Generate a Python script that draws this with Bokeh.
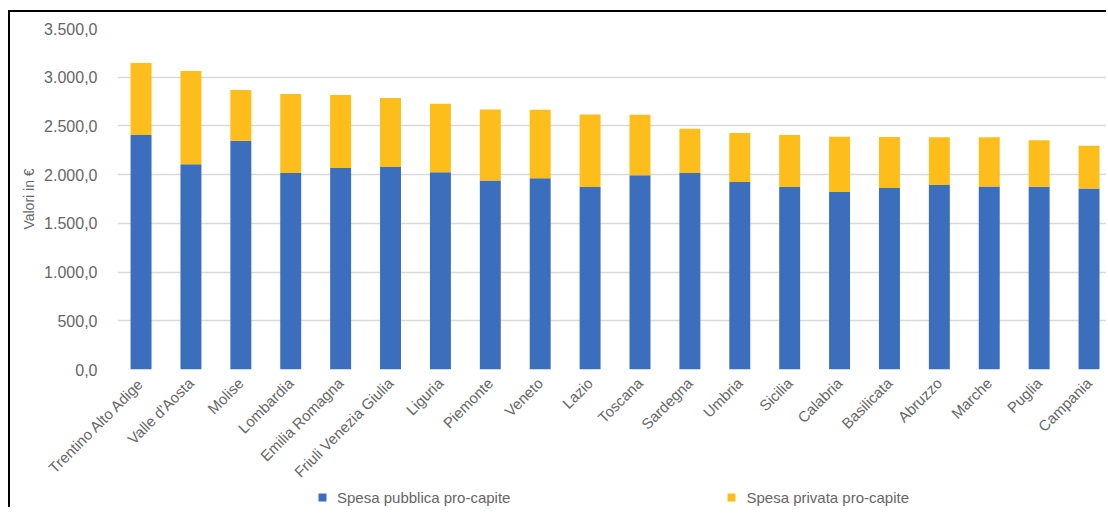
from bokeh.plotting import figure
from bokeh.layouts import column
from bokeh.models import Range1d, FixedTicker, Legend, LegendItem, InlineStyleSheet
from bokeh.embed import file_html
from bokeh.resources import INLINE
from math import pi

# ---- data ----
regions = ["Trentino Alto Adige", "Valle d'Aosta", "Molise", "Lombardia", "Emilia Romagna",
           "Friuli Venezia Giulia", "Liguria", "Piemonte", "Veneto", "Lazio", "Toscana",
           "Sardegna", "Umbria", "Sicilia", "Calabria", "Basilicata", "Abruzzo", "Marche",
           "Puglia", "Campania"]
spesa_pubblica = [2407, 2107, 2348, 2017, 2069, 2079, 2024, 1941, 1962, 1872, 1993,
                  2017, 1924, 1872, 1821, 1862, 1893, 1879, 1876, 1859]
spesa_privata = [738, 958, 521, 810, 748, 707, 703, 728, 703, 745, 621,
                 455, 503, 535, 568, 524, 490, 504, 476, 437]
y_ticks = [0, 500, 1000, 1500, 2000, 2500, 3000, 3500]
y_tick_labels = ["0,0", "500,0", "1.000,0", "1.500,0", "2.000,0", "2.500,0", "3.000,0", "3.500,0"]
series_names = ["Spesa pubblica pro-capite", "Spesa privata pro-capite"]
y_title = "Valori in €"

BLUE = "#3B6FBE"
YELLOW = "#FDBD1B"
GREY = "#666666"
FONT = "Liberation Sans, Arial, sans-serif"

positions = list(range(len(regions)))
src = dict(x=positions, pub=spesa_pubblica, priv=spesa_privata)

p = figure(frame_width=989, frame_height=339, output_backend="svg", toolbar_location=None,
           x_range=Range1d(-0.472, 19.39), y_range=Range1d(0, 3500),
           min_border_left=107, min_border_right=0, min_border_top=16, min_border_bottom=120)
p.stylesheets = [InlineStyleSheet(css=":host { margin-left: 8px; margin-top: 10px; "
                                      "border-left: 2px solid #000; border-top: 2px solid #000; }")]
p.outline_line_color = None

r = p.vbar_stack(["pub", "priv"], x="x", width=0.42, source=src,
                 color=[BLUE, YELLOW], line_color=None)

# axes
p.xaxis.ticker = FixedTicker(ticks=positions)
p.xaxis.major_label_overrides = {i: n for i, n in zip(positions, regions)}
p.xaxis.major_label_orientation = pi / 4
p.xaxis.axis_line_color = None
p.xaxis.major_tick_line_color = None
p.xaxis.minor_tick_line_color = None
p.xaxis.major_label_standoff = 5
p.xaxis.major_label_text_font = FONT
p.xaxis.major_label_text_font_size = "15px"
p.xaxis.major_label_text_color = GREY

p.yaxis.ticker = FixedTicker(ticks=y_ticks)
p.yaxis.major_label_overrides = {t: l for t, l in zip(y_ticks, y_tick_labels)}
p.yaxis.axis_line_color = None
p.yaxis.major_tick_line_color = None
p.yaxis.minor_tick_line_color = None
p.yaxis.major_label_standoff = 14
p.yaxis.major_label_text_font = FONT
p.yaxis.major_label_text_font_size = "16px"
p.yaxis.major_label_text_color = GREY
p.yaxis.axis_label = y_title
p.yaxis.axis_label_text_font = FONT
p.yaxis.axis_label_text_font_size = "14px"
p.yaxis.axis_label_text_font_style = "normal"
p.yaxis.axis_label_text_color = GREY
p.yaxis.axis_label_standoff = 4

p.xgrid.grid_line_color = None
p.ygrid.ticker = FixedTicker(ticks=y_ticks)
p.ygrid.grid_line_color = "#D9D9D9"
p.ygrid.grid_line_width = 1.5

# legend strip below the chart: same series drawn outside its visible range,
# so only the legend swatches and labels show
lp = figure(width=1096, height=20, output_backend="svg", toolbar_location=None,
            x_axis_location=None, y_axis_location=None, min_border=0,
            x_range=Range1d(-200, -199), y_range=Range1d(0, 1))
lp.stylesheets = [InlineStyleSheet(css=":host { margin-left: 8px; border-left: 2px solid #000; }")]
lp.outline_line_color = None
lp.grid.visible = False
lr = lp.vbar_stack(["pub", "priv"], x="x", width=0.42, source=src,
                   color=[BLUE, YELLOW], line_color=None)

legend = Legend(items=[LegendItem(label=series_names[0], renderers=[lr[0]]),
                       LegendItem(label=series_names[1], renderers=[lr[1]])],
                orientation="horizontal", location=(200, 0),
                glyph_width=10, glyph_height=10, label_standoff=10, spacing=216,
                label_height=20, label_text_font=FONT, label_text_font_size="15px",
                label_text_color=GREY, border_line_color=None, background_fill_alpha=0,
                padding=0, margin=0)
lp.add_layout(legend, "center")

layout = column(p, lp, spacing=0)

open("out.html", "w").write(file_html(layout, INLINE))
